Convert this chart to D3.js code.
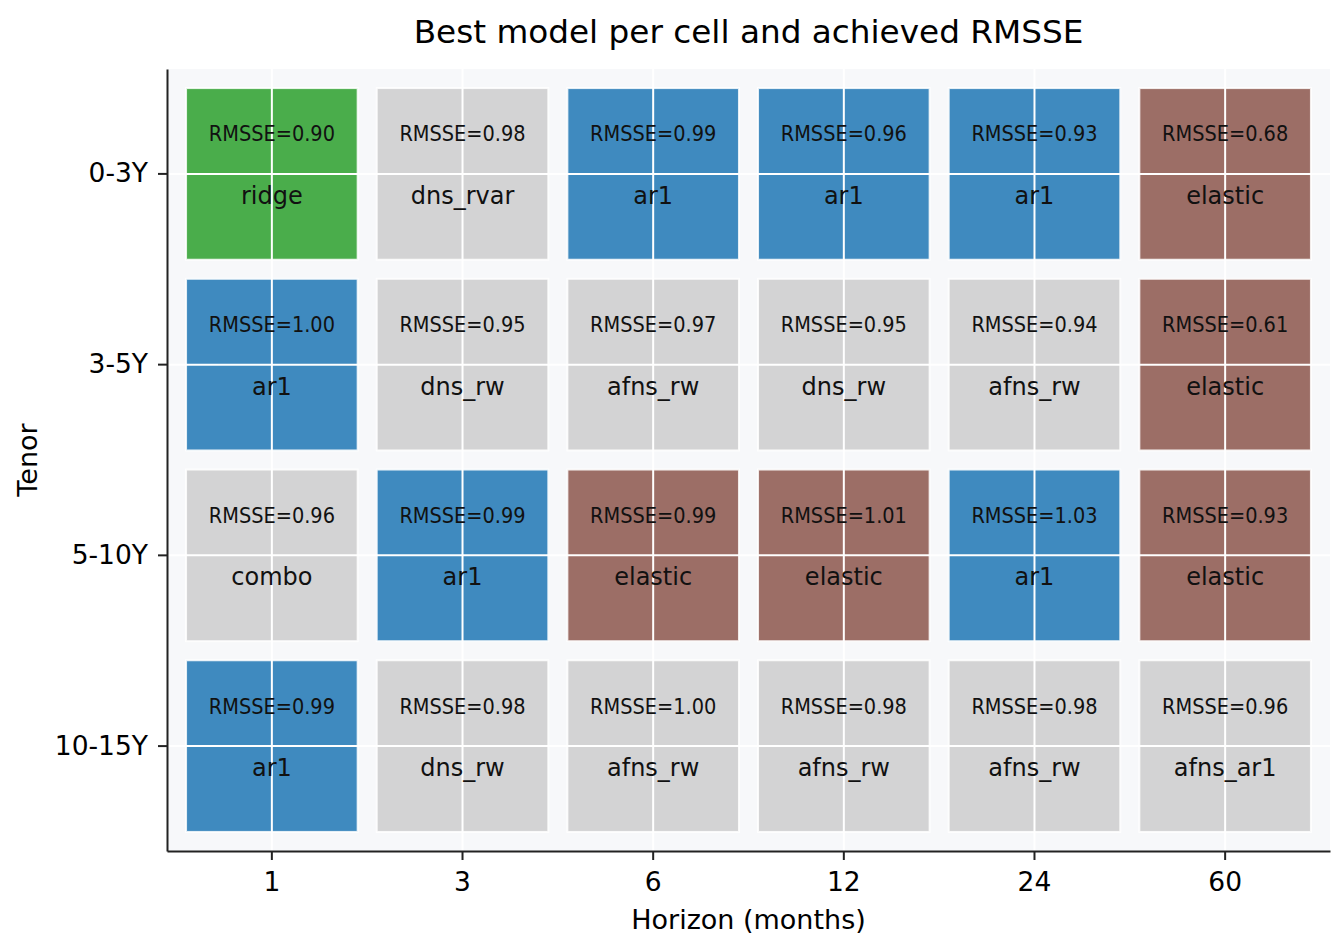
<!DOCTYPE html>
<html>
<head>
<meta charset="utf-8">
<script src="https://cdn.jsdelivr.net/npm/d3@7"></script>
<style>
  body { margin: 0; background: #fff; }
  text { font-family: "DejaVu Sans", sans-serif; fill: #000; }
</style>
</head>
<body>
<div id="chart"></div>
<script>
var tenors = ["0-3Y", "3-5Y", "5-10Y", "10-15Y"];
var horizons = ["1", "3", "6", "12", "24", "60"];

// best model per cell, rows = tenors, cols = horizons
var models = [
  ["ridge", "dns_rvar", "ar1", "ar1", "ar1", "elastic"],
  ["ar1", "dns_rw", "afns_rw", "dns_rw", "afns_rw", "elastic"],
  ["combo", "ar1", "elastic", "elastic", "ar1", "elastic"],
  ["ar1", "dns_rw", "afns_rw", "afns_rw", "afns_rw", "afns_ar1"]
];
var rmsse = [
  [0.90, 0.98, 0.99, 0.96, 0.93, 0.68],
  [1.00, 0.95, 0.97, 0.95, 0.94, 0.61],
  [0.96, 0.99, 0.99, 1.01, 1.03, 0.93],
  [0.99, 0.98, 1.00, 0.98, 0.98, 0.96]
];
var modelNames = ["ridge", "ar1", "elastic", "other"];
var modelColors = ["#2ca02c", "#1f77b4", "#8c564b", "#cccccc"];

var width = 1341;
var height = 950;
var margin = {left: 167, top: 69, right: 11, bottom: 99};

var svg = d3.select("#chart")
            .append("svg")
            .attr("width", width)
            .attr("height", height);

var x = d3.scaleBand()
          .domain(horizons)
          .range([margin.left, width - margin.right])
          .padding(0.1);

var y = d3.scaleBand()
          .domain(tenors)
          .range([margin.top, height - margin.bottom])
          .padding(0.1);

var color = d3.scaleOrdinal()
              .domain(modelNames)
              .range(modelColors);

// axes background
svg.append("rect")
   .attr("x", margin.left)
   .attr("y", margin.top)
   .attr("width", width - margin.right - margin.left)
   .attr("height", height - margin.bottom - margin.top)
   .attr("fill", "#f7f8fa");

var cells = [];
tenors.forEach(function(t, i) {
  horizons.forEach(function(h, j) {
    cells.push({tenor: t, horizon: h, model: models[i][j], value: rmsse[i][j]});
  });
});

svg.append("g")
   .selectAll("rect")
   .data(cells)
   .enter()
     .append("rect")
     .attr("x", function(d) { return x(d.horizon); })
     .attr("y", function(d) { return y(d.tenor); })
     .attr("width", x.bandwidth())
     .attr("height", y.bandwidth())
     .attr("fill", function(d) { return color(modelNames.indexOf(d.model) >= 0 ? d.model : "other"); })
     .attr("fill-opacity", 0.85)
     .attr("stroke", "#fff")
     .attr("stroke-opacity", 0.85)
     .attr("stroke-width", 2);

// white grid lines through tick positions, drawn over the cells
var grid = svg.append("g");
grid.selectAll("line.v")
    .data(horizons)
    .enter()
      .append("line")
      .attr("x1", function(d) { return x(d) + x.bandwidth() / 2; })
      .attr("x2", function(d) { return x(d) + x.bandwidth() / 2; })
      .attr("y1", margin.top)
      .attr("y2", height - margin.bottom)
      .attr("stroke", "#fff")
      .attr("stroke-width", 2);
grid.selectAll("line.h")
    .data(tenors)
    .enter()
      .append("line")
      .attr("y1", function(d) { return y(d) + y.bandwidth() / 2; })
      .attr("y2", function(d) { return y(d) + y.bandwidth() / 2; })
      .attr("x1", margin.left)
      .attr("x2", width - margin.right)
      .attr("stroke", "#fff")
      .attr("stroke-width", 2);

var labels = svg.append("g");
labels.selectAll("text.score")
      .data(cells)
      .enter()
        .append("text")
        .attr("x", function(d) { return x(d.horizon) + x.bandwidth() / 2; })
        .attr("y", function(d) { return y(d.tenor) + y.bandwidth() / 2 - 40; })
        .attr("text-anchor", "middle")
        .attr("dominant-baseline", "central")
        .style("font-size", "21.5px")
        .style("font-stretch", "condensed")
        .style("fill", "#111")
        .text(function(d) { return "RMSSE=" + d.value.toFixed(2); });
labels.selectAll("text.model")
      .data(cells)
      .enter()
        .append("text")
        .attr("x", function(d) { return x(d.horizon) + x.bandwidth() / 2; })
        .attr("y", function(d) { return y(d.tenor) + y.bandwidth() / 2 + 22; })
        .attr("text-anchor", "middle")
        .attr("dominant-baseline", "central")
        .style("font-size", "24px")
        .style("fill", "#111")
        .text(function(d) { return d.model; });

var xAxis = d3.axisBottom(x).tickSize(9).tickPadding(12).tickSizeOuter(0);
var yAxis = d3.axisLeft(y).tickSize(9).tickPadding(10).tickSizeOuter(0);

var gx = svg.append("g")
            .attr("transform", "translate(0," + (height - margin.bottom) + ")")
            .call(xAxis);
var gy = svg.append("g")
            .attr("transform", "translate(" + margin.left + ",0)")
            .call(yAxis);

[gx, gy].forEach(function(g) {
  g.select(".domain").attr("stroke", "#222").attr("stroke-width", 2);
  g.selectAll(".tick line").attr("stroke", "#222").attr("stroke-width", 2);
  g.selectAll(".tick text").style("font-size", "26.5px").style("font-family", "DejaVu Sans").attr("fill", "#111");
});

svg.append("text")
   .attr("x", (margin.left + width - margin.right) / 2)
   .attr("y", 919)
   .attr("text-anchor", "middle")
   .attr("dominant-baseline", "central")
   .style("font-size", "27px")
   .text("Horizon (months)");

svg.append("text")
   .attr("transform", "translate(27," + ((margin.top + height - margin.bottom) / 2) + ") rotate(-90)")
   .attr("text-anchor", "middle")
   .attr("dominant-baseline", "central")
   .style("font-size", "27px")
   .text("Tenor");

svg.append("text")
   .attr("x", (margin.left + width - margin.right) / 2)
   .attr("y", 32)
   .attr("text-anchor", "middle")
   .attr("dominant-baseline", "central")
   .style("font-size", "32.7px")
   .text("Best model per cell and achieved RMSSE");
</script>
</body>
</html>
